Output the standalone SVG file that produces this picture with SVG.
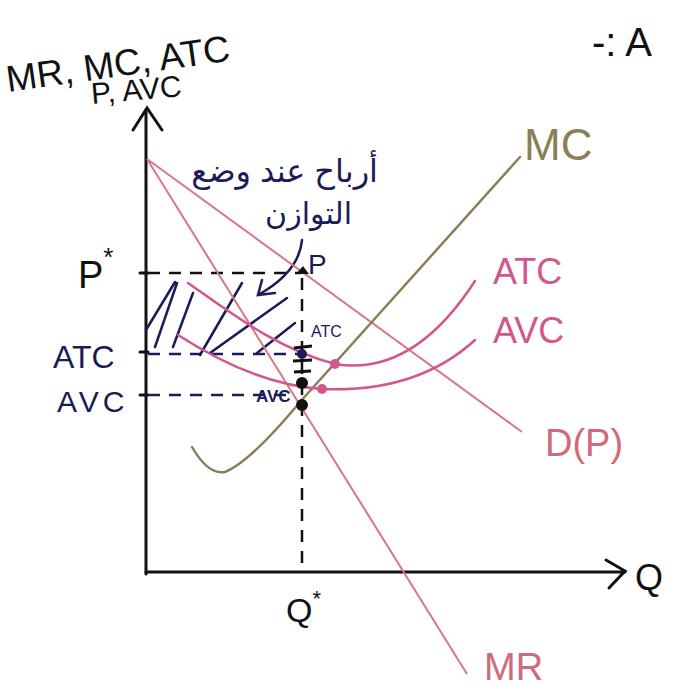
<svg xmlns="http://www.w3.org/2000/svg" width="674" height="687" viewBox="0 0 674 687">
<style>
.hand{font-family:"Liberation Sans","DejaVu Sans",sans-serif;}
.blk{fill:#111;}
.navy{fill:#1b1b5a;}
.pink{fill:#d0588a;}
.rose{fill:#d06a7a;}
.olive{fill:#8a7f58;}
.axis{stroke:#111;stroke-width:3;fill:none;stroke-linecap:round;}
.dash{stroke:#111;stroke-width:2.5;stroke-dasharray:12 9;fill:none;}
.dashn{stroke:#1b1b5a;stroke-width:2.5;stroke-dasharray:12 9;fill:none;}
.lin{stroke:#da7684;stroke-width:2;fill:none;}
.cost{stroke:#d0588a;stroke-width:2.5;fill:none;stroke-linecap:round;}
.mc{stroke:#8a7f58;stroke-width:2.5;fill:none;stroke-linecap:round;}
.hatch{stroke:#1b1b5a;stroke-width:2.5;fill:none;stroke-linecap:round;}
</style>
<rect width="674" height="687" fill="#fff"/>

<g id="axes">
  <path class="axis" d="M146,574 L146,110"/>
  <path class="axis" d="M133,130 L147,108 L162,130"/>
  <path class="axis" d="M146,572 L625,572"/>
  <path class="axis" d="M606,560 L625,571 L609,588"/>
  <path class="axis" d="M140,273 L148,273 M140,352 L148,352 M140,395 L148,395"/>
</g>

<g id="connectors">
  <path class="dash" d="M148,273 L300,273"/>
  <path class="dash" d="M302,278 L302,572"/>
  <path class="dashn" d="M148,354 L300,354"/>
  <path class="dashn" d="M148,395 L290,395"/>
  <path class="hatch" d="M146,330 L175,282 M155,347 L177,283 M173,347 L193,293 M200,355 L242,283 M210,353 L287,298 M257,353 L295,323"/>
  <path class="hatch" d="M302,240 C300,262 285,280 258,295"/>
  <path class="hatch" d="M262,280 L258,295 L275,293"/>
</g>

<g id="demand">
  <path class="lin" d="M147,159 L522,432"/>
  <text class="hand rose" x="545" y="456" font-size="38">D(P)</text>
</g>
<g id="mr">
  <path class="lin" d="M147,159 L467,674"/>
  <text class="hand rose" x="484" y="680" font-size="38">MR</text>
</g>
<g id="mc">
  <path class="mc" d="M192,447 Q208,475 225,472 Q250,462 300,402 L520,157"/>
  <text class="hand olive" x="524" y="160" font-size="44">MC</text>
</g>
<g id="atc">
  <path class="cost" d="M188,283 C230,312 275,348 335,364 C395,374 440,335 475,281"/>
  <text class="hand pink" x="493" y="284" font-size="36">ATC</text>
</g>
<g id="avc">
  <path class="cost" d="M178,335 C220,362 270,386 322,389 C390,392 440,372 475,340"/>
  <text class="hand pink" x="493" y="343" font-size="36">AVC</text>
</g>

<g id="points">
  <path d="M296,274 L309,274 L303,266 Z" fill="#111"/>
  <path d="M294,348 L312,346 M293,361 L312,360 M294,372 L311,371" stroke="#111" stroke-width="3"/>
  <circle cx="302" cy="354" r="5" fill="#1b1b5a"/>
  <circle cx="302" cy="383" r="6" fill="#111"/>
  <circle cx="302" cy="405" r="6" fill="#111"/>
  <circle cx="335" cy="364" r="5" fill="#d0588a"/>
  <circle cx="322" cy="389" r="5" fill="#d0588a"/>
</g>

<g id="labels">
  <text class="hand blk" x="8" y="92" font-size="37" transform="rotate(-8 8 92)">MR, MC, ATC</text>
  <text class="hand blk" x="92" y="104" font-size="30" transform="rotate(-5 92 104)">P, AVC</text>
  <text class="hand blk" x="78" y="288" font-size="38">P<tspan dy="-22" font-size="26">*</tspan></text>
  <text class="hand navy" x="53" y="368" font-size="32">ATC</text>
  <text class="hand navy" x="57" y="412" font-size="30" letter-spacing="4">AVC</text>
  <text class="hand navy" x="308" y="274" font-size="28">P</text>
  <text class="hand navy" x="311" y="337" font-size="16">ATC</text>
  <text class="hand navy" x="256" y="402" font-size="17" font-weight="bold">AVC</text>
  <text class="hand blk" x="286" y="622" font-size="34">Q<tspan dy="-16" font-size="22">*</tspan></text>
  <text class="hand blk" x="635" y="590" font-size="36">Q</text>
  <text class="hand blk" x="592" y="56" font-size="40">-: A</text>
  <text class="hand navy" x="378" y="182" font-size="32" text-anchor="end" font-family="'Noto Sans','DejaVu Sans',sans-serif">أرباح عند وضع</text>
  <text class="hand navy" x="352" y="224" font-size="30" text-anchor="end" font-family="'Noto Sans','DejaVu Sans',sans-serif">التوازن</text>
</g>
</svg>
